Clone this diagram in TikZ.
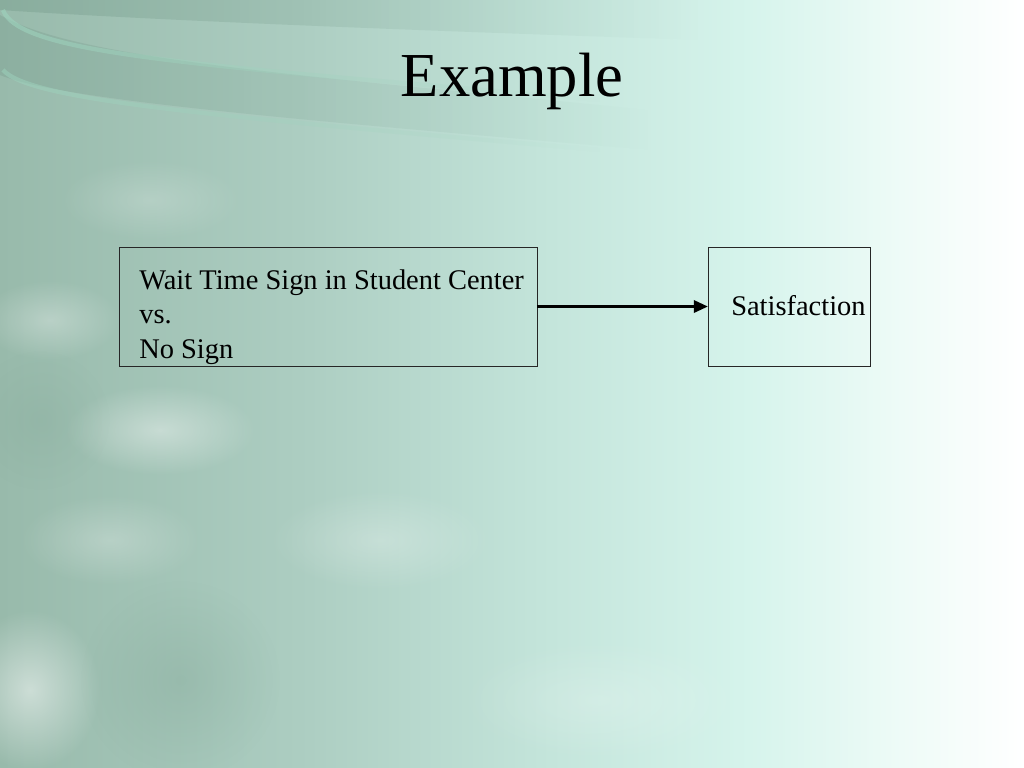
\documentclass[tikz,border=0pt]{standalone}
\usepackage{fontspec}
\setmainfont{Liberation Serif}
\usetikzlibrary{arrows.meta,fadings,shadings}
\definecolor{bgA}{HTML}{98BAAB}
\definecolor{bgB}{HTML}{ACCDC1}
\definecolor{bgC}{HTML}{C4E5DB}
\definecolor{bgD}{HTML}{D6F4EC}
\definecolor{bgE}{HTML}{EEFBF7}
\definecolor{swoosh}{HTML}{6F9584}
\definecolor{swooshlight}{HTML}{9ED4BE}
\pgfdeclarehorizontalshading{slidebg}{100bp}{color(0bp)=(bgA); color(25bp)=(bgA); color(39.6bp)=(bgB); color(51.9bp)=(bgC); color(61.6bp)=(bgD); color(69bp)=(bgE); color(75bp)=(white); color(100bp)=(white)}
\tikzfading[name=softblob, inner color=transparent!0, outer color=transparent!100]
\tikzset{
  boxnode/.style={draw=black!85, line width=0.7pt, fill=none, inner sep=0pt, outer sep=0pt, anchor=north west},
  bodytext/.style={font=\fontsize{20}{24.3}\selectfont, inner sep=0pt, text=black},
  titletext/.style={font=\fontsize{44}{52}\selectfont, inner sep=0pt, text=black},
  blob/.style={fill=white, path fading=softblob},
  link/.style={line width=2.2pt, -{Triangle[length=10pt,width=8.5pt]}}
}
\begin{document}
\begin{tikzpicture}[x=0.703125pt, y=-0.703125pt]
\useasboundingbox (0,0) rectangle (1024,768);
% background
\shade[shading=slidebg] (0,0) rectangle (1024,768);
% top-left swoosh bands and soft patches
\begin{scope}
  \clip (0,0) rectangle (1024,768);
  \fill[swoosh, opacity=0.35, path fading=east] (0,0) -- (700,0) -- (700,40) .. controls (400,30) and (150,20) .. (0,10) -- cycle;
  \fill[swoosh, opacity=0.28, path fading=east] (0,15) .. controls (80,60) and (300,75) .. (650,110) -- (650,150) .. controls (300,120) and (60,100) .. (0,75) -- cycle;
  \draw[swooshlight, line width=3pt, opacity=0.6, path fading=east] (3,10) .. controls (20,55) and (200,65) .. (600,100);
  \draw[swooshlight, line width=3pt, opacity=0.5, path fading=east] (3,70) .. controls (30,100) and (200,115) .. (600,150);
  \fill[blob, opacity=0.4] (160,430) ellipse (95 and 45);
  \fill[blob, opacity=0.3] (50,320) ellipse (70 and 40);
  \fill[blob, opacity=0.5] (30,690) ellipse (70 and 80);
  \fill[blob, opacity=0.25] (110,540) ellipse (90 and 45);
  \fill[blob, opacity=0.25] (380,540) ellipse (110 and 50);
  \fill[blob, opacity=0.2] (150,200) ellipse (90 and 40);
  \fill[blob, opacity=0.2] (600,700) ellipse (140 and 60);
  \fill[swoosh, opacity=0.22, path fading=softblob] (180,680) ellipse (100 and 100);
  \fill[swoosh, opacity=0.15, path fading=softblob] (40,420) ellipse (70 and 70);
\end{scope}
% title
\node[titletext, anchor=base] (title) at (512,97) {Example};
% boxes
\node[boxnode, minimum width=293.9pt, minimum height=83.7pt] (cond) at (119,247) {};
\node[boxnode, minimum width=113.9pt, minimum height=83.7pt] (sat) at (708,247) {};
\node[bodytext, anchor=north west, align=left] (condtext) at (139,269) {Wait Time Sign in Student Center\\vs.\\No Sign};
\node[bodytext, anchor=base west] (sattext) at (731,315) {Satisfaction};
% connector
\draw[link] (cond.east) -- (sat.west);
\end{tikzpicture}
\end{document}
